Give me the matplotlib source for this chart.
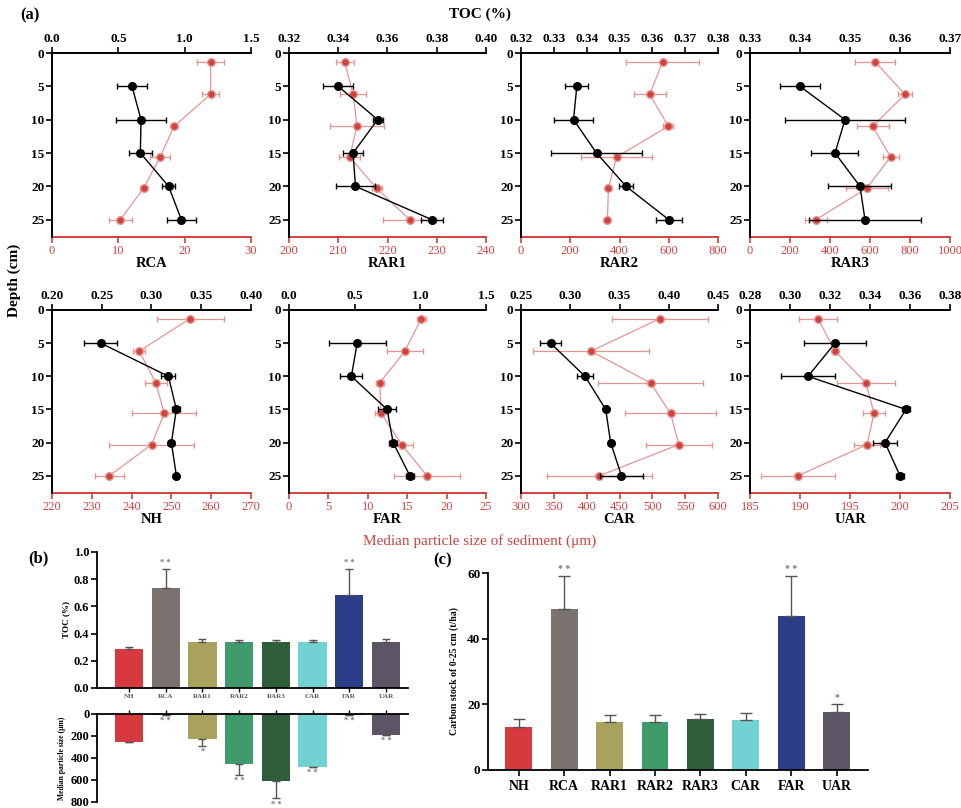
import numpy as np
import matplotlib.pyplot as plt

plt.rcParams['font.family'] = ['Liberation Serif', 'DejaVu Serif']
plt.rcParams['font.weight'] = 'bold'
plt.rcParams['axes.labelweight'] = 'bold'

W, H = 961, 808
RED = '#d0433d'
RED_LIGHT = '#e69591'

# ---------------- data (a): depth profiles ----------------
names = ['RCA', 'RAR1', 'RAR2', 'RAR3', 'NH', 'FAR', 'CAR', 'UAR']
toc_depth = [5, 10, 15, 20, 25]
size_depth = [1.3, 6.2, 11, 15.6, 20.3, 25]

toc_mean = [
    [0.603, 0.671, 0.666, 0.879, 0.975],
    [0.340, 0.356, 0.346, 0.347, 0.378],
    [0.337, 0.336, 0.343, 0.352, 0.365],
    [0.340, 0.349, 0.347, 0.352, 0.353],
    [0.249, 0.317, 0.325, 0.320, 0.325],
    [0.519, 0.475, 0.747, 0.793, 0.920],
    [0.280, 0.315, 0.336, 0.341, 0.352],
    [0.3225, 0.309, 0.358, 0.3475, 0.355],
]
toc_err = [
    [0.113, 0.187, 0.088, 0.05, 0.107],
    [0.006, 0.002, 0.004, 0.008, 0.0045],
    [0.0035, 0.0058, 0.014, 0.0022, 0.004],
    [0.004, 0.012, 0.0047, 0.0063, 0.0112],
    [0.0164, 0.007, 0.004, 0.003, 0.002],
    [0.216, 0.083, 0.07, 0.03, 0.03],
    [0.011, 0.0084, 0.002, 0.002, 0.022],
    [0.0154, 0.0133, 0.002, 0.006, 0.002],
]
size_mean = [
    [23.9, 23.9, 18.4, 16.3, 13.8, 10.3],
    [211.3, 213.0, 213.8, 212.3, 217.8, 224.5],
    [575, 523, 598, 388, 355, 351],
    [625, 775, 613, 703, 583, 330],
    [254.7, 241.9, 246.1, 248.2, 245.0, 234.4],
    [16.8, 14.7, 11.5, 11.7, 14.3, 17.5],
    [511.5, 406.7, 497.3, 527.7, 540.3, 419.4],
    [191.8, 193.5, 196.6, 197.4, 196.7, 189.8],
]
size_err = [
    [2.0, 1.26, 0.5, 1.5, 0.5, 1.76],
    [1.8, 2.7, 5.5, 2.2, 1.0, 5.4],
    [148, 64, 20, 145, 10, 10],
    [100, 37, 80, 40, 105, 55],
    [8.4, 1.5, 2.7, 8, 10.7, 3.6],
    [0.6, 2.3, 0.5, 0.8, 1.4, 4.2],
    [73, 88, 80, 70, 50, 80],
    [1.9, 0.3, 2.9, 1.1, 1.3, 3.7],
]
# axis ranges (start, stop, step) and label formats
toc_ticks = [(0, 1.5, 0.5, '%.1f'), (0.32, 0.40, 0.02, '%.2f'), (0.32, 0.38, 0.01, '%.2f'),
             (0.33, 0.37, 0.01, '%.2f'), (0.20, 0.40, 0.05, '%.2f'), (0, 1.5, 0.5, '%.1f'),
             (0.25, 0.45, 0.05, '%.2f'), (0.28, 0.38, 0.02, '%.2f')]
size_ticks = [(0, 30, 10), (200, 240, 10), (0, 800, 200), (0, 1000, 200),
              (220, 270, 10), (0, 25, 5), (300, 600, 50), (185, 205, 5)]

# ---------------- data (b), (c) ----------------
sites = ['NH', 'RCA', 'RAR1', 'RAR2', 'RAR3', 'CAR', 'FAR', 'UAR']
colors = ['#d63a3f', '#7b716f', '#a9a25c', '#3f9a6c', '#2e5e39', '#72d2d3', '#2d3e88', '#5b5565']
toc_site = [0.285, 0.737, 0.341, 0.341, 0.341, 0.341, 0.683, 0.341]
toc_site_err = [0.02, 0.14, 0.02, 0.01, 0.01, 0.01, 0.19, 0.02]
size_site = [252, 12, 231, 456, 608, 480, 8, 191]
size_site_err = [0, 0, 60, 100, 160, 0, 0, 0]
stock = [13.2, 49.0, 14.7, 14.7, 15.5, 15.3, 47.0, 17.6]
stock_err = [2.4, 10.0, 2.1, 1.9, 1.6, 2.2, 12.0, 2.5]


def box(l, t, r, b):
    return [l / W, 1 - b / H, (r - l) / W, (b - t) / H]


def ftext(x, y, s, **kw):
    fig.text(x / W, 1 - y / H, s, **kw)


fig = plt.figure(figsize=(W / 100, H / 100), dpi=100)

xs = [(52, 251), (289, 486), (521, 718), (750, 950)]
ys = [(53, 237), (310, 493)]

for i, name in enumerate(names):
    l, r = xs[i % 4]
    t, b = ys[i // 4]
    ax = fig.add_axes(box(l, t, r, b))
    ax2 = ax.twiny()
    # black TOC profile drawn above the red one
    ax.set_zorder(ax2.get_zorder() + 1)
    ax.patch.set_visible(False)

    a0, a1, st, fmt = toc_ticks[i]
    ax.set_xlim(a0, a1)
    tk = np.arange(a0, a1 + st / 2, st)
    ax.set_xticks(tk)
    ax.set_xticklabels([fmt % v for v in tk])
    ax.xaxis.tick_top()
    ax.set_ylim(27.6, 0)
    ax.set_yticks([0, 5, 10, 15, 20, 25])
    ax.tick_params(axis='both', labelsize=9.5, width=1.2, length=4, pad=1.5)
    for s in ['right', 'bottom']:
        ax.spines[s].set_visible(False)
    ax.spines['top'].set_linewidth(1.4)
    ax.spines['left'].set_linewidth(1.4)

    b0, b1, bst = size_ticks[i]
    ax2.set_xlim(b0, b1)
    ax2.set_xticks(np.arange(b0, b1 + bst / 2, bst))
    ax2.xaxis.tick_bottom()
    ax2.xaxis.set_label_position('bottom')
    ax2.tick_params(axis='x', colors=RED, labelsize=9, width=1.2, length=4, pad=2)
    for tl in ax2.get_xticklabels():
        tl.set_fontweight('normal')
    for s in ['top', 'left', 'right']:
        ax2.spines[s].set_visible(False)
    ax2.spines['bottom'].set_color(RED)
    ax2.spines['bottom'].set_linewidth(1.4)
    ax2.set_xlabel(name, fontsize=10.5, color='black', labelpad=0)

    ax2.errorbar(size_mean[i], size_depth, xerr=size_err[i], fmt='-o', color=RED_LIGHT,
                 mfc=RED, mec=RED_LIGHT, ms=5.5, lw=0.9, elinewidth=0.9, capsize=2.5)
    ax.errorbar(toc_mean[i], toc_depth, xerr=toc_err[i], fmt='-o', color='black',
                ms=5.5, lw=1.0, elinewidth=1.0, capsize=2.5)

ftext(20, 15, '(a)', fontsize=12, ha='left', va='center')
ftext(480, 14, 'TOC (%)', fontsize=11, ha='center', va='center')
ftext(14, 280, 'Depth (cm)', fontsize=11, ha='center', va='center', rotation=90)
ftext(480, 541, 'Median particle size of sediment (\u03bcm)', fontsize=11, ha='center',
      va='center', color=RED, fontweight='normal')

# ---------------- (b) ----------------
pos = np.arange(len(sites))
bu = fig.add_axes(box(97, 552, 408, 688))
bu.bar(pos, toc_site, width=0.77, color=colors,
       yerr=[np.zeros(len(sites)), toc_site_err], capsize=3,
       error_kw=dict(ecolor='#555555', elinewidth=1))
bu.set_xlim(-0.87, 7.6)
bu.set_ylim(0, 1.0)
bu.set_yticks(np.arange(0, 1.01, 0.2))
bu.set_yticklabels(['%.1f' % v for v in np.arange(0, 1.01, 0.2)])
bu.set_xticks(pos)
bu.set_xticklabels(sites, fontsize=5, color='#555555')
bu.tick_params(axis='y', labelsize=9, width=1.2, length=4, pad=1.5)
bu.tick_params(axis='x', width=1, length=3, pad=1)
bu.spines['top'].set_visible(False)
bu.spines['right'].set_visible(False)
bu.spines['left'].set_linewidth(1.3)
bu.spines['bottom'].set_linewidth(1.3)
bu.set_ylabel('TOC (%)', fontsize=6.5, labelpad=3)
for k in [1, 6]:
    bu.text(pos[k], toc_site[k] + toc_site_err[k] + 0.03, '* *', ha='center', fontsize=6,
            color='#777777')

bl = fig.add_axes(box(97, 714, 408, 802))
bl.bar(pos, size_site, width=0.77, color=colors,
       yerr=[np.zeros(len(sites)), size_site_err], capsize=3,
       error_kw=dict(ecolor='#555555', elinewidth=1))
bl.set_xlim(-0.87, 7.6)
bl.set_ylim(800, 0)
bl.set_yticks([0, 200, 400, 600, 800])
bl.xaxis.tick_top()
bl.set_xticks(pos)
bl.set_xticklabels([])
bl.tick_params(axis='y', labelsize=9, width=1.2, length=4, pad=1.5)
bl.tick_params(axis='x', width=1, length=3)
bl.spines['bottom'].set_visible(False)
bl.spines['right'].set_visible(False)
bl.spines['left'].set_linewidth(1.3)
bl.spines['top'].set_linewidth(1.3)
bl.set_ylabel('Median particle size (\u03bcm)', fontsize=5.5, labelpad=3)
star_b = ['', '* *', '*', '* *', '* *', '* *', '* *', '* *']
for k in range(len(sites)):
    if star_b[k]:
        bl.text(pos[k], size_site[k] + size_site_err[k] + 55, star_b[k], ha='center',
                va='center', fontsize=6, color='#777777')

ftext(28, 558, '(b)', fontsize=12, ha='left', va='center')

# ---------------- (c) ----------------
cx = fig.add_axes(box(488, 573, 868, 770))
cx.bar(pos, stock, width=0.59, color=colors,
       yerr=[np.zeros(len(sites)), stock_err], capsize=4,
       error_kw=dict(ecolor='#555555', elinewidth=1))
cx.set_xlim(-0.68, 7.69)
cx.set_ylim(0, 60)
cx.set_yticks([0, 20, 40, 60])
cx.set_xticks(pos)
cx.set_xticklabels(sites, fontsize=10)
cx.tick_params(axis='y', labelsize=9.5, width=1.2, length=4, pad=1.5)
cx.tick_params(axis='x', width=1.2, length=4, pad=3)
cx.spines['top'].set_visible(False)
cx.spines['right'].set_visible(False)
cx.spines['left'].set_linewidth(1.3)
cx.spines['bottom'].set_linewidth(1.3)
cx.set_ylabel('Carbon stock of 0-25 cm (t/ha)', fontsize=7, labelpad=6)
star_c = ['', '* *', '', '', '', '', '* *', '*']
for k in range(len(sites)):
    if star_c[k]:
        cx.text(pos[k], stock[k] + stock_err[k] + 1.2, star_c[k], ha='center', fontsize=7,
                color='#777777')

ftext(433, 560, '(c)', fontsize=12, ha='left', va='center')

fig.savefig('out.png', dpi=100)
